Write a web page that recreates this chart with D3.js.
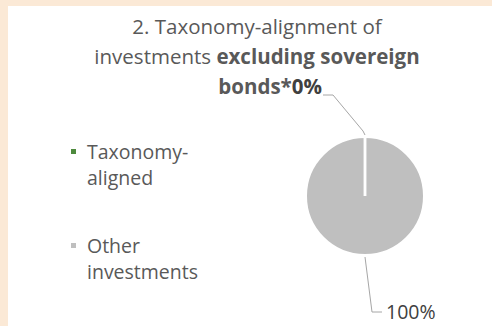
<!DOCTYPE html>
<html>
<head>
<meta charset="utf-8">
<script src="https://cdn.jsdelivr.net/npm/d3@7"></script>
<style>
  body { margin: 0; background: #fbe9d6; }
  text { font-family: "Open Sans", sans-serif; }
</style>
</head>
<body>
<div class="piechart"></div>
<script>
// data
const categories = ["Taxonomy-aligned", "Other investments"];
const values = [0, 100];
const valueLabels = ["0%", "100%"];
const legendLines = [["Taxonomy-", "aligned"], ["Other", "investments"]];
const colors = ["#4e8a3e", "#bfbfbf"];

const width = 492, height = 326;
const cx = 365, cy = 196, radius = 59;

const svg = d3.select(".piechart").append("svg")
    .attr("width", width)
    .attr("height", height);

// white panel
svg.append("rect")
  .attr("x", 8).attr("y", 6)
  .attr("width", width - 8).attr("height", height - 6)
  .attr("fill", "#ffffff");

// title
const title = svg.append("text")
  .attr("text-anchor", "middle")
  .attr("fill", "#595959")
  .style("font-size", "20.5px");
title.append("tspan").attr("x", 257).attr("y", 34).text("2. Taxonomy-alignment of");
title.append("tspan").attr("x", 257).attr("y", 64).text("investments ")
  .append("tspan").style("font-weight", "bold").text("excluding sovereign");

// pie
const pie = d3.pie().sort(null).value(d => d);
const arc = d3.arc().innerRadius(0).outerRadius(radius);
const arcs = pie(values);

const g = svg.append("g")
  .attr("transform", "translate(" + cx + "," + cy + ")");

g.selectAll("path.slice")
  .data(arcs)
  .enter().append("path")
    .attr("class", "slice")
    .attr("d", arc)
    .attr("fill", (d, i) => colors[i])
    .attr("stroke", "#ffffff")
    .attr("stroke-width", 2);

// slice borders (the 0% slice collapses to a single white edge)
const outer = (a, r) => [Math.sin(a) * r, -Math.cos(a) * r];
g.selectAll("line.edge")
  .data(arcs)
  .enter().append("line")
    .attr("class", "edge")
    .attr("x1", 0).attr("y1", 0)
    .attr("x2", d => outer(d.startAngle, radius)[0])
    .attr("y2", d => outer(d.startAngle, radius)[1])
    .attr("stroke", "#ffffff")
    .attr("stroke-width", 2.5);

// leader lines + labels
const mid = d => (d.startAngle + d.endAngle) / 2;

// 0% label (top, shares the title's last line)
const a0 = mid(arcs[0]);
const p0 = outer(a0, radius + 2);
const leader0 = [p0, [p0[0] - 2, p0[1] - 4], [p0[0] - 32, p0[1] - 40], [p0[0] - 42, p0[1] - 40]];
g.append("path")
  .attr("d", d3.line()(leader0))
  .attr("fill", "none")
  .attr("stroke", "#a6a6a6")
  .attr("stroke-width", 1);

const line3 = svg.append("text")
  .attr("text-anchor", "end")
  .attr("x", cx + leader0[3][0] - 1)
  .attr("y", 94)
  .attr("fill", "#595959")
  .style("font-size", "20.5px")
  .style("font-weight", "bold");
line3.append("tspan").text("bonds*");
line3.append("tspan").attr("fill", "#404040").text(valueLabels[0]);

// 100% label (bottom)
const a1 = mid(arcs[1]);
const p1 = outer(a1, radius + 2);
const leader1 = [p1, [p1[0] + 7, p1[1] + 55], [p1[0] + 17, p1[1] + 55]];
g.append("path")
  .attr("d", d3.line()(leader1))
  .attr("fill", "none")
  .attr("stroke", "#a6a6a6")
  .attr("stroke-width", 1);

g.append("text")
  .attr("x", leader1[2][0] + 4)
  .attr("y", leader1[2][1])
  .attr("dy", "0.35em")
  .attr("fill", "#404040")
  .style("font-size", "19.5px")
  .text(valueLabels[1]);

// legend
const legend = svg.selectAll(".legend")
  .data(categories)
  .enter().append("g")
    .attr("class", "legend")
    .attr("transform", (d, i) => "translate(71," + (152 + i * 94) + ")");

legend.append("rect")
  .attr("x", 0).attr("y", -3)
  .attr("width", 5).attr("height", 5)
  .attr("fill", (d, i) => colors[i]);

legend.append("text")
  .attr("fill", "#595959")
  .style("font-size", "19.5px")
  .selectAll("tspan")
  .data((d, i) => legendLines[i])
  .enter().append("tspan")
    .attr("x", 16)
    .attr("y", (d, j) => j * 26)
    .attr("dy", "0.35em")
    .text(d => d);
</script>
</body>
</html>
